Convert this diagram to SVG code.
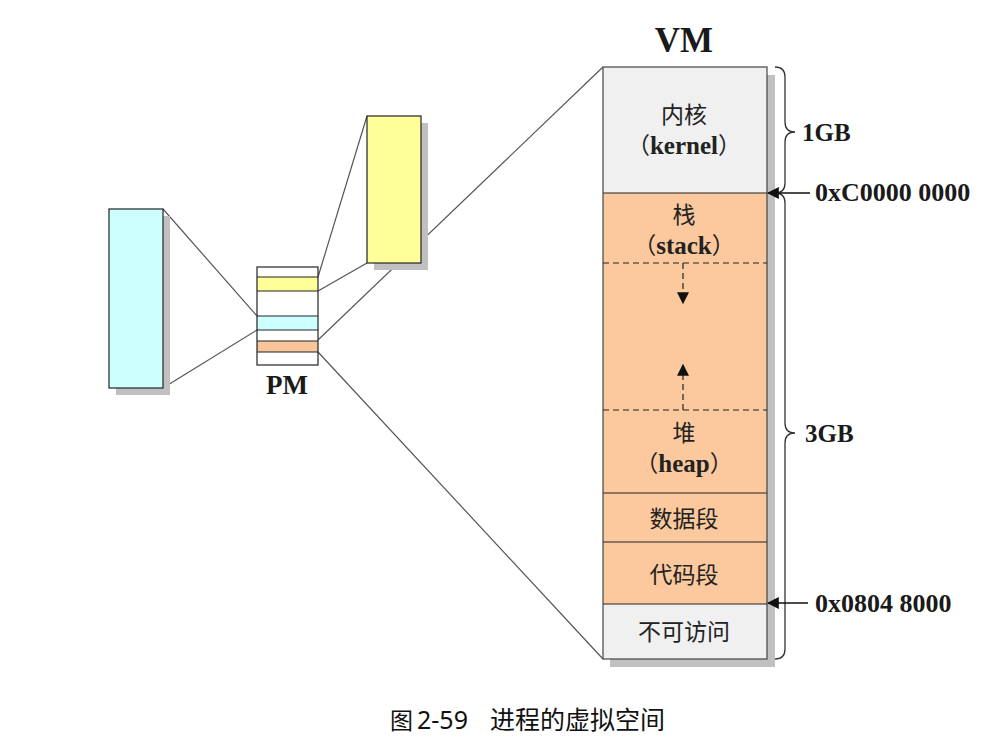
<svg xmlns="http://www.w3.org/2000/svg" width="1007" height="753" viewBox="0 0 1007 753">
<defs>
<style>
.lbl{font-family:"Liberation Serif","Noto Sans CJK SC",serif;font-weight:bold;fill:#1a1a1a}
.cjk{font-family:"Liberation Serif","Noto Sans CJK SC",serif;font-size:23px;fill:#222;text-anchor:middle}
.lat{font-weight:bold;font-size:25px}
.conn{stroke:#555;stroke-width:1.2;fill:none}
.box{stroke:#222;stroke-width:1.2}
.shadow{fill:#c0c0c0}
.dash{stroke:#222;stroke-width:1.2;stroke-dasharray:6 4;fill:none}
.brace{stroke:#333;stroke-width:1.3;fill:none}
</style>
<marker id="ah" viewBox="0 0 10 10" refX="9" refY="5" markerWidth="12" markerHeight="12" markerUnits="userSpaceOnUse" orient="auto">
<path d="M0,0 L10,5 L0,10 z" fill="#111"/>
</marker>
</defs>
<rect width="1007" height="753" fill="#fff"/>

<g id="connectors">
<line class="conn" x1="163" y1="209" x2="257" y2="316"/>
<line class="conn" x1="163" y1="388" x2="257" y2="330"/>
<line class="conn" x1="367" y1="116" x2="318" y2="277"/>
<line class="conn" x1="367" y1="263" x2="318" y2="291"/>
<line class="conn" x1="318" y1="340" x2="603" y2="67"/>
<line class="conn" x1="318" y1="352" x2="603" y2="659"/>
</g>

<g id="cyan-block">
<rect class="shadow" x="116" y="216" width="54" height="179"/>
<rect class="box" x="109" y="209" width="54" height="179" fill="#ccffff"/>
</g>

<g id="yellow-block">
<rect class="shadow" x="374" y="123" width="54" height="147"/>
<rect class="box" x="367" y="116" width="54" height="147" fill="#ffff99"/>
</g>

<g id="pm">
<rect x="257" y="267" width="61" height="98" fill="#fff"/>
<rect x="257" y="277" width="61" height="14" fill="#ffff99"/>
<rect x="257" y="316" width="61" height="14" fill="#ccffff"/>
<rect x="257" y="341" width="61" height="11" fill="#f9c69b"/>
<g stroke="#222" stroke-width="1.2">
<line x1="257" y1="277" x2="318" y2="277"/>
<line x1="257" y1="291" x2="318" y2="291"/>
<line x1="257" y1="316" x2="318" y2="316"/>
<line x1="257" y1="330" x2="318" y2="330"/>
<line x1="257" y1="341" x2="318" y2="341"/>
<line x1="257" y1="352" x2="318" y2="352"/>
</g>
<rect class="box" x="257" y="267" width="61" height="98" fill="none"/>
<text class="lbl" x="287" y="394" font-size="27" text-anchor="middle">PM</text>
</g>

<g id="vm">
<text class="lbl" x="684" y="52" font-size="35" text-anchor="middle">VM</text>
<rect class="shadow" x="610" y="75" width="165" height="592"/>
<rect x="603" y="67" width="164" height="126" fill="#f0f0f0"/>
<rect x="603" y="193" width="164" height="411" fill="#fbc99d"/>
<rect x="603" y="604" width="164" height="55" fill="#f0f0f0"/>
<g stroke="#222" stroke-width="1.2">
<line x1="603" y1="193" x2="767" y2="193"/>
<line x1="603" y1="493" x2="767" y2="493"/>
<line x1="603" y1="542" x2="767" y2="542"/>
<line x1="603" y1="604" x2="767" y2="604"/>
</g>
<rect x="603" y="67" width="164" height="592" fill="none" stroke="#444" stroke-width="1.2"/>
<line class="dash" x1="603" y1="263" x2="767" y2="263"/>
<line class="dash" x1="603" y1="410" x2="767" y2="410"/>
<line class="dash" x1="683" y1="263" x2="683" y2="303" marker-end="url(#ah)"/>
<line class="dash" x1="683" y1="410" x2="683" y2="365" marker-end="url(#ah)"/>
<text class="cjk" x="684" y="123">内核</text>
<text class="cjk" x="684" y="154">（<tspan class="lat">kernel</tspan>）</text>
<text class="cjk" x="684" y="223">栈</text>
<text class="cjk" x="684" y="254">（<tspan class="lat">stack</tspan>）</text>
<text class="cjk" x="684" y="441">堆</text>
<text class="cjk" x="684" y="472">（<tspan class="lat">heap</tspan>）</text>
<text class="cjk" x="684" y="527">数据段</text>
<text class="cjk" x="684" y="583">代码段</text>
<text class="cjk" x="684" y="640">不可访问</text>
</g>

<g id="annotations">
<path class="brace" d="M775,67 Q785,67 785,77 L785,122 Q785,132 795,132 Q785,132 785,142 L785,183 Q785,193 775,193"/>
<path class="brace" d="M775,193 Q785,193 785,203 L785,423 Q785,433 795,433 Q785,433 785,443 L785,649 Q785,659 775,659"/>
<text class="lbl" x="802" y="141" font-size="25">1GB</text>
<text class="lbl" x="805" y="442" font-size="25">3GB</text>
<line x1="810" y1="193" x2="768" y2="193" stroke="#111" stroke-width="1.3" marker-end="url(#ah)"/>
<line x1="808" y1="603" x2="768" y2="603" stroke="#111" stroke-width="1.3" marker-end="url(#ah)"/>
<text class="lbl" x="815" y="201" font-size="26">0xC0000 0000</text>
<text class="lbl" x="815" y="612" font-size="26">0x0804 8000</text>
</g>

<g id="caption">
<text x="390" y="729" font-family="'Noto Sans CJK SC','Noto Sans',sans-serif" font-size="23" fill="#111">图</text>
<text x="417" y="729" font-family="'Noto Sans','Noto Sans CJK SC',sans-serif" font-size="25" fill="#111">2-59</text>
<text x="490" y="729" font-family="'Noto Sans CJK SC',sans-serif" font-size="25" fill="#111">进程的虚拟空间</text>
</g>
</svg>
